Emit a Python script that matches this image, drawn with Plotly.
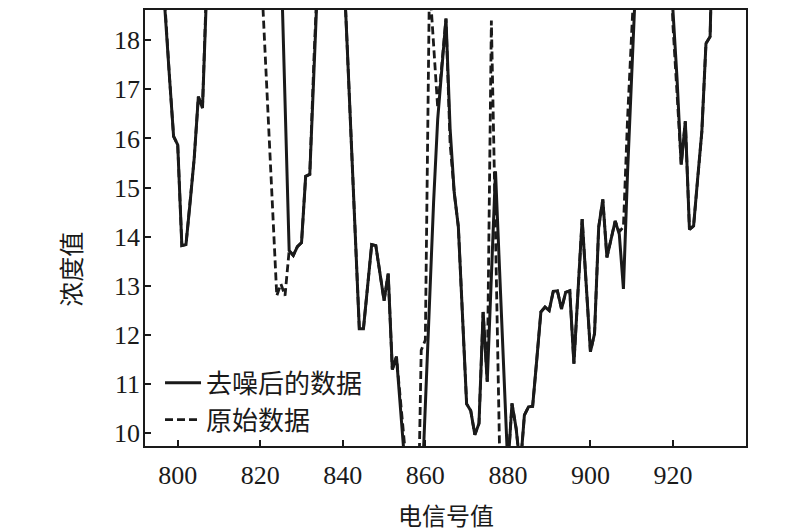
import plotly.graph_objects as go

# signal values (x) shared by both curves
signal = list(range(795, 939))

# denoised concentration
denoised = [21.0, 19.7, 18.45, 17.25, 16.04, 15.87, 13.82, 13.84, 14.7, 15.6,
            16.85, 16.62, 19.0, 21.0, 22.5, 23.4, 24.0, 24.3, 24.5, 24.4,
            24.1, 23.7, 23.2, 22.8, 22.4, 22.1, 21.9, 21.6, 21.3, 20.9,
            19.8, 16.8, 13.72, 13.62, 13.8, 13.88, 15.23, 15.27, 17.6, 19.9,
            21.5, 22.3, 22.6, 22.2, 21.2, 19.9, 18.0, 16.0, 14.1, 12.13,
            12.13, 13.0, 13.84, 13.82, 13.25, 12.7, 13.25, 11.3, 11.56, 10.5,
            9.4, 9.0, 8.8, 8.7, 8.5, 10.57, 12.65, 14.7, 16.4, 17.45,
            18.44, 16.2, 14.9, 14.2, 12.5, 10.6, 10.46, 9.97, 10.2, 12.47,
            11.05, 13.2, 15.33, 13.3, 11.3, 9.3, 10.61, 10.1, 9.3, 10.37,
            10.54, 10.55, 11.5, 12.47, 12.57, 12.5, 12.89, 12.9, 12.53, 12.87,
            12.9, 11.42, 12.9, 14.36, 13.0, 11.66, 12.03, 14.19, 14.76, 13.58,
            13.95, 14.32, 14.05, 12.94, 15.31, 17.68, 20.05, 22.0, 23.2, 23.8,
            23.9, 23.5, 22.6, 21.4, 20.0, 18.6, 17.2, 15.47, 16.35, 14.15,
            14.22, 15.2, 16.14, 17.93, 18.07, 21.5, 23.0, 24.0, 24.5, 24.8,
            24.9, 24.8, 24.6, 24.3]

# raw concentration
raw = [21.2, 20.0, 18.6, 17.25, 16.04, 15.87, 13.82, 13.84, 14.7, 15.6,
       16.85, 16.62, 19.2, 21.2, 22.6, 23.5, 24.1, 24.3, 24.4, 24.2,
       23.8, 23.3, 22.7, 22.0, 21.2, 19.8, 18.05, 16.3, 14.55, 12.8,
       13.04, 12.8, 13.72, 13.62, 13.8, 13.88, 15.23, 15.27, 17.6, 19.9,
       21.5, 22.3, 22.6, 22.2, 21.2, 19.9, 18.0, 16.0, 14.1, 12.13,
       12.13, 13.0, 13.84, 13.82, 13.25, 12.7, 13.25, 11.3, 11.56, 10.5,
       9.4, 8.5, 7.5, 7.0, 11.69, 11.9, 19.2, 17.9, 16.62, 17.5,
       18.44, 15.9, 14.9, 14.2, 12.5, 10.6, 10.46, 9.97, 10.2, 12.47,
       11.05, 18.4, 14.1, 9.6, 8.8, 9.3, 10.61, 10.1, 9.3, 10.37,
       10.54, 10.55, 11.5, 12.47, 12.57, 12.5, 12.89, 12.9, 12.53, 12.87,
       12.9, 11.42, 12.9, 14.36, 13.0, 11.66, 12.03, 14.19, 14.76, 13.58,
       13.95, 14.32, 14.1, 14.2, 16.4, 18.6, 20.8, 22.4, 23.4, 23.9,
       23.9, 23.4, 22.5, 21.2, 21.0, 18.3, 16.9, 15.47, 16.35, 14.15,
       14.22, 15.2, 16.14, 17.93, 18.07, 21.5, 23.0, 24.0, 24.5, 24.8,
       24.9, 24.8, 24.6, 24.3]

x_ticks = [800, 820, 840, 860, 880, 900, 920]
y_ticks = [10, 11, 12, 13, 14, 15, 16, 17, 18]

serif = "Liberation Serif, Times New Roman, serif"
cjk = "Noto Sans CJK SC"
ink = "#1a1a1a"

fig = go.Figure()
fig.add_trace(go.Scatter(x=signal, y=denoised, mode="lines", name="去噪后的数据",
                         line=dict(color=ink, width=3)))
fig.add_trace(go.Scatter(x=signal, y=raw, mode="lines", name="原始数据",
                         line=dict(color=ink, width=2.8, dash="8px,4px")))

# page has an 8px body margin, so the figure is sized to fit the window
fig.update_layout(
    width=792, height=524,
    margin=dict(l=137, r=54, t=0, b=86),
    plot_bgcolor="white", paper_bgcolor="white",
    font=dict(family=serif, size=26, color=ink),
    showlegend=True,
    legend=dict(x=0.025, y=0.006, xanchor="left", yanchor="bottom",
                bgcolor="rgba(0,0,0,0)", font=dict(family=cjk, size=26, color=ink),
                tracegroupgap=0, itemwidth=36),
)

fig.update_xaxes(range=[792.07, 937.7], tickvals=x_ticks, ticks="inside", ticklen=6,
                 tickwidth=1.5, tickcolor=ink, showline=True, linecolor=ink, linewidth=1.6,
                 mirror=True, showgrid=False, zeroline=False, ticklabelstandoff=5)
fig.update_yaxes(range=[9.743, 18.613], tickvals=y_ticks, ticks="inside", ticklen=6,
                 tickwidth=1.5, tickcolor=ink, showline=True, linecolor=ink, linewidth=1.6,
                 mirror=True, showgrid=False, zeroline=False, ticklabelstandoff=-2)

fig.add_annotation(text="电信号值", xref="paper", yref="paper", x=0.501, y=-0.157,
                   xanchor="center", yanchor="middle", showarrow=False, borderpad=0,
                   font=dict(family=cjk, size=24, color=ink))
fig.add_annotation(text="浓度值", xref="paper", yref="paper", x=-0.125, y=0.406,
                   xanchor="center", yanchor="middle", showarrow=False, textangle=-90,
                   font=dict(family=cjk, size=25, color=ink))

fig.write_html("out.html")
